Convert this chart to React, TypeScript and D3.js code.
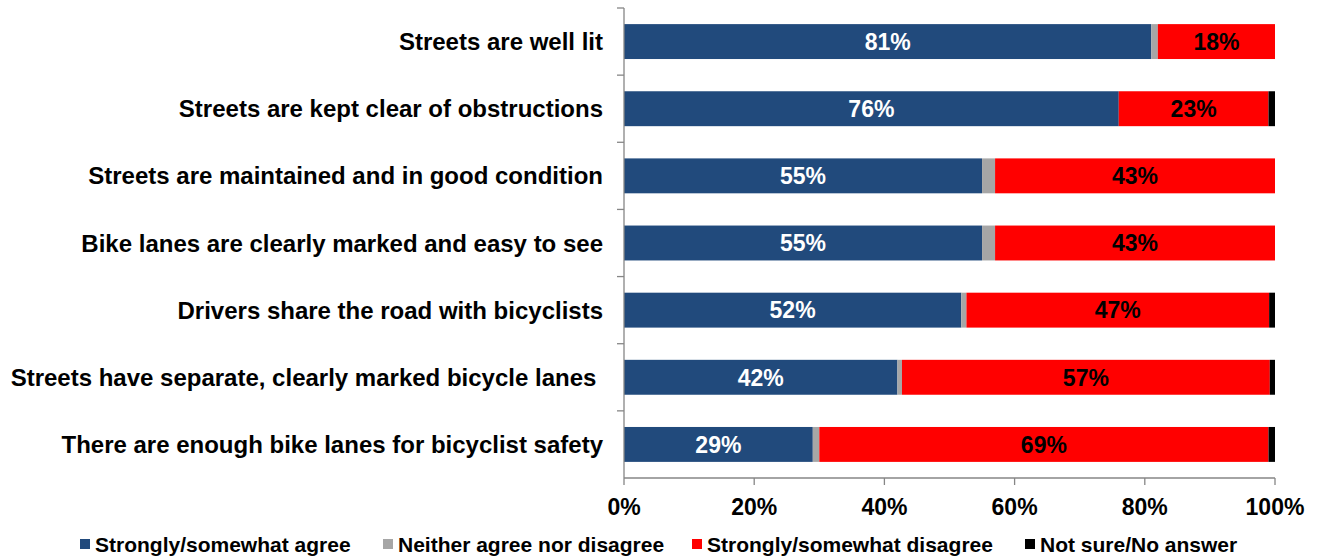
import React from "react";
import * as d3 from "d3";

const categories = [
  "Streets are well lit",
  "Streets are kept clear of obstructions",
  "Streets are maintained and in good condition",
  "Bike lanes are clearly marked and easy to see",
  "Drivers share the road with bicyclists",
  "Streets have separate, clearly marked bicycle lanes ",
  "There are enough bike lanes for bicyclist safety",
];
const agree = [81, 76, 55, 55, 51.8, 42.0, 29];
const neither = [1, 0, 2, 2, 0.8, 0.7, 1];
const disagree = [18, 23, 43, 43, 46.5, 56.5, 69];
const notSure = [0, 1, 0, 0, 0.9, 0.8, 1];
const seriesNames = [
  "Strongly/somewhat agree",
  "Neither agree nor disagree",
  "Strongly/somewhat disagree",
  "Not sure/No answer",
];
const seriesColors = ["#214A7C", "#A6A6A6", "#FF0000", "#000000"];
const labelColors = ["#FFFFFF", null, "#000000", null];
const xTicks = [0, 20, 40, 60, 80, 100];

const W = 1320;
const H = 558;
const m = { left: 624, right: 45, top: 8, bottom: 80 };

export default function App() {
  const x = d3.scaleLinear().domain([0, 100]).range([m.left, W - m.right]);
  const y = d3
    .scaleBand<string>()
    .domain(categories)
    .range([m.top, H - m.bottom])
    .paddingInner(0.48)
    .paddingOuter(0.24);
  const rows = categories.map((c, i) => ({
    cat: c,
    vals: [agree[i], neither[i], disagree[i], notSure[i]],
  }));
  const font = "'Liberation Sans', Arial, sans-serif";
  const bottomY = H - m.bottom;
  const bandStarts = categories.map((_, i) => m.top + i * ((bottomY - m.top) / categories.length));
  const legendX = [80, 383, 692, 1025];

  return (
    <svg
      width={W}
      height={H}
      style={{ position: "absolute", left: 0, top: 0, background: "#fff" }}
      fontFamily={font}
    >
      {rows.map((r) => {
        let acc = 0;
        const yy = y(r.cat)!;
        return (
          <g key={r.cat}>
            {r.vals.map((v, k) => {
              const x0 = x(acc);
              acc += v;
              const x1 = x(acc);
              if (v <= 0) return null;
              return (
                <rect
                  key={k}
                  x={x0}
                  y={yy}
                  width={x1 - x0}
                  height={y.bandwidth()}
                  fill={seriesColors[k]}
                />
              );
            })}
            {(() => {
              let a = 0;
              return r.vals.map((v, k) => {
                const cx = x(a + v / 2);
                a += v;
                if (!labelColors[k] || v <= 0) return null;
                return (
                  <text
                    key={"l" + k}
                    x={cx}
                    y={yy + y.bandwidth() / 2}
                    dy="0.36em"
                    textAnchor="middle"
                    fontSize={23}
                    fontWeight="bold"
                    fill={labelColors[k]!}
                  >
                    {Math.round(v)}%
                  </text>
                );
              });
            })()}
            <text
              x={603}
              y={yy + y.bandwidth() / 2}
              dy="0.36em"
              textAnchor="end"
              fontSize={24}
              fontWeight="bold"
              fill="#000"
              style={{ whiteSpace: "pre" }}
            >
              {r.cat}
            </text>
          </g>
        );
      })}
      {/* vertical axis */}
      <line x1={m.left} x2={m.left} y1={m.top} y2={bottomY} stroke="#868686" strokeWidth={1.3} />
      {bandStarts.map((b, i) => (
        <line key={"yt" + i} x1={m.left - 7} x2={m.left} y1={b} y2={b} stroke="#868686" strokeWidth={1.3} />
      ))}
      {/* horizontal axis */}
      <line x1={m.left} x2={x(100)} y1={bottomY} y2={bottomY} stroke="#868686" strokeWidth={1.3} />
      {xTicks.map((t) => (
        <g key={"xt" + t}>
          <line x1={x(t)} x2={x(t)} y1={bottomY} y2={bottomY + 7} stroke="#868686" strokeWidth={1.3} />
          <text x={x(t)} y={507} dy="0.36em" textAnchor="middle" fontSize={23} fontWeight="bold">
            {t}%
          </text>
        </g>
      ))}
      {/* legend */}
      {seriesNames.map((n, i) => (
        <g key={"lg" + i}>
          <rect x={legendX[i]} y={539} width={10} height={10} fill={seriesColors[i]} />
          <text x={legendX[i] + 15} y={544} dy="0.36em" fontSize={21} fontWeight="bold">
            {n}
          </text>
        </g>
      ))}
    </svg>
  );
}
